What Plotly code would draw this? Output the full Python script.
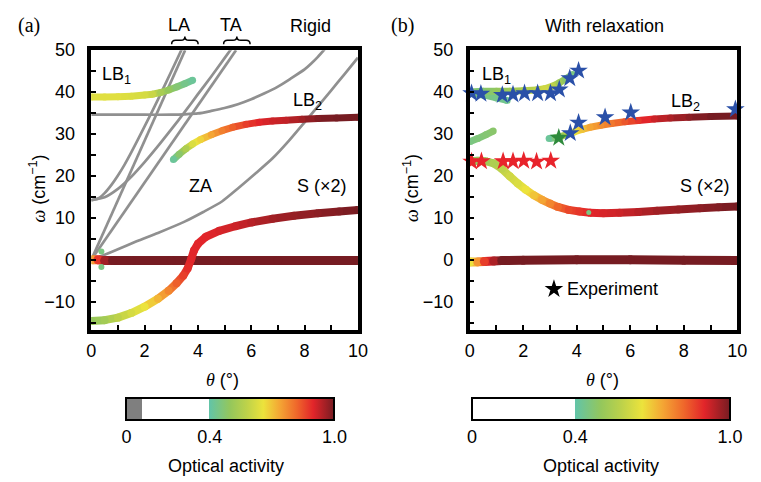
import plotly.graph_objects as go

W, H = 761, 482
FONT = "Liberation Sans, Arial, Helvetica, sans-serif"
SERIF = "Liberation Serif, Times New Roman, serif"
GRAY = "#909090"


def px(x):
    return x / W


def py(y):
    return 1 - y / H


# ---------------- optical-activity colour map ----------------
OA_POS = [0.4, 0.5, 0.58, 0.66, 0.74, 0.82, 0.9, 1.0]
OA_HEX = ["#62c4a8", "#94c75c", "#bdd24a", "#ece33c", "#f4a534", "#ef682b", "#e2252a", "#761c22"]
SCALE_A = [[0, "#7f7f7f"], [0.075, "#7f7f7f"], [0.075, "#ffffff"], [0.4, "#ffffff"]] + \
          [[p, c] for p, c in zip(OA_POS, OA_HEX)]
SCALE_B = [[0, "#ffffff"], [0.4, "#ffffff"]] + [[p, c] for p, c in zip(OA_POS, OA_HEX)]


def oa_color(a):
    """Colour of an optical activity value on the gradient part of the scale."""
    a = min(max(a, OA_POS[0]), OA_POS[-1])
    for i in range(len(OA_POS) - 1):
        if OA_POS[i] <= a <= OA_POS[i + 1]:
            f = (a - OA_POS[i]) / (OA_POS[i + 1] - OA_POS[i])
            c0 = [int(OA_HEX[i][k:k + 2], 16) for k in (1, 3, 5)]
            c1 = [int(OA_HEX[i + 1][k:k + 2], 16) for k in (1, 3, 5)]
            r, g, b = [round(u + (v - u) * f) for u, v in zip(c0, c1)]
            return f"rgb({r},{g},{b})"
    return OA_HEX[-1]


# ---------------- panel (a): rigid ----------------
LA_LIN_T = [0, 3.52]
LA_LIN_W = [0, 50]
LA_HYP_T = [0, 0.25, 0.5, 0.75, 1, 1.25, 1.5, 2, 2.5, 3, 3.4]
LA_HYP_W = [14.2, 14.6, 15.9, 17.8, 20.1, 22.7, 25.6, 31.8, 38.2, 44.9, 50.3]
TA_LIN_T = [0, 5.43]
TA_LIN_W = [0, 50]
TA_HYP_T = [0, 0.5, 1, 1.5, 2, 2.5, 3, 3.5, 4, 4.5, 5, 5.25]
TA_HYP_W = [14.2, 14.9, 16.9, 19.8, 23.3, 27.1, 31.1, 35.2, 39.5, 43.7, 48.1, 50.3]
ZA_T = [0.2, 0.5, 1, 1.7, 2.5, 3.5, 4.2, 4.9, 5.5, 6.2, 6.8, 7.4, 8, 8.5, 9, 9.5, 10]
ZA_W = [0.4, 1.2, 2.5, 4.4, 6.4, 9.1, 11.4, 13.9, 17, 20.8, 24.2, 28.3, 32.8, 36.6, 40.4, 44.3, 48.2]
LBG_T = [0, 1, 2, 3, 3.5, 4, 4.5, 5, 5.5, 6, 6.5, 7, 7.5, 8, 8.25, 8.5, 8.75]
LBG_W = [34.6, 34.6, 34.6, 34.6, 34.7, 34.9, 35.5, 36.2, 37.1, 38.3, 39.7, 41.3, 43.3, 45.4, 46.8, 48.4, 50.2]

LB1A_T = [0, 0.5, 1, 1.5, 2, 2.3, 2.6, 2.9, 3.2, 3.5, 3.8]
LB1A_W = [38.8, 38.8, 38.9, 39.0, 39.3, 39.5, 39.9, 40.5, 41.2, 42.0, 42.8]
LB1A_A = [0.64, 0.64, 0.64, 0.63, 0.62, 0.6, 0.54, 0.5, 0.47, 0.44, 0.42]

LB2A_T = [3.08, 3.3, 3.55, 3.8, 4.1, 4.5, 4.9, 5.3, 5.8, 6.3, 6.8, 7.3, 7.9, 8.5, 9.2, 10]
LB2A_W = [23.9, 25.2, 26.5, 27.6, 28.7, 29.8, 30.8, 31.6, 32.3, 32.8, 33.1, 33.3, 33.5, 33.7, 33.8, 34.0]
LB2A_A = [0.42, 0.48, 0.55, 0.63, 0.68, 0.74, 0.79, 0.83, 0.87, 0.9, 0.92, 0.93, 0.96, 0.99, 1.0, 1.0]

SA_T = [0, 0.5, 1, 1.5, 2, 2.5, 2.9, 3.2, 3.45, 3.62, 3.75, 3.85, 4.0, 4.3, 4.8, 5.4, 6, 6.8, 7.6, 8.5, 9.3, 10]
SA_W = [-14.6, -14.4, -13.8, -12.7, -11.2, -9.3, -7.4, -5.6, -3.8, -2.0, 0.2, 2.2, 3.8, 5.5, 6.9, 8.0,
        8.9, 9.8, 10.5, 11.1, 11.5, 11.9]
SA_A = [0.5, 0.53, 0.58, 0.62, 0.66, 0.72, 0.78, 0.83, 0.87, 0.89, 0.9, 0.9, 0.9, 0.9, 0.91, 0.92,
        0.94, 0.96, 0.97, 0.98, 0.99, 1.0]

ZA0_T = [0.05, 0.25, 0.5, 0.8, 1.5, 3, 5, 7, 10]
ZA0_W = [0, 0, -0.2, -0.2, -0.2, -0.2, -0.2, -0.2, -0.2]
ZA0_A = [0.75, 0.88, 0.96, 1, 1, 1, 1, 1, 1]

DOTA_T = [0.38, 0.38]
DOTA_W = [2.0, -1.7]
DOTA_A = [0.45, 0.45]

# ---------------- panel (b): with relaxation ----------------
LB1B_T = [0, 0.5, 1, 1.5, 2, 2.5, 2.8, 3.1, 3.35, 3.6, 3.85]
LB1B_W = [40.0, 40.2, 40.2, 40.2, 40.3, 40.5, 40.8, 41.4, 42.2, 43.2, 44.2]
LB1B_A = [0.46, 0.47, 0.5, 0.52, 0.55, 0.58, 0.61, 0.58, 0.52, 0.48, 0.45]
LB1C_T = [0.2, 0.6, 1.0, 1.4]
LB1C_W = [39.6, 39.2, 38.6, 38.0]
LB1C_A = [0.45, 0.45, 0.44, 0.43]
MIDB_T = [0.02, 0.3, 0.6, 0.88]
MIDB_W = [28.2, 28.9, 29.8, 30.7]
MIDB_A = [0.45, 0.46, 0.47, 0.48]

LB2B_T = [2.97, 3.2, 3.4, 3.65, 3.9, 4.2, 4.5, 4.9, 5.3, 5.8, 6.3, 6.9, 7.5, 8.2, 9, 10]
LB2B_W = [28.9, 29.1, 29.4, 29.9, 30.5, 31.1, 31.6, 32.1, 32.5, 32.9, 33.2, 33.6, 33.8, 34.0, 34.2, 34.3]
LB2B_A = [0.42, 0.46, 0.5, 0.58, 0.65, 0.7, 0.74, 0.77, 0.8, 0.84, 0.88, 0.92, 0.95, 0.98, 1.0, 1.0]

SB_T = [0, 0.3, 0.6, 0.9, 1.2, 1.5, 1.8, 2.1, 2.4, 2.7, 3.0, 3.3, 3.7, 4.1, 4.5, 5, 5.6, 6.3, 7, 7.8,
        8.6, 9.3, 10]
SB_W = [23.5, 23.6, 23.5, 23.0, 21.7, 19.9, 18.2, 16.7, 15.4, 14.3, 13.4, 12.6, 11.9, 11.5, 11.2, 11.1,
        11.2, 11.4, 11.7, 12.0, 12.3, 12.5, 12.7]
SB_A = [0.5, 0.5, 0.52, 0.55, 0.58, 0.61, 0.63, 0.66, 0.7, 0.74, 0.78, 0.82, 0.86, 0.88, 0.9, 0.91,
        0.92, 0.94, 0.96, 0.97, 0.98, 0.99, 1.0]

ZB0_T = [0.02, 0.3, 0.55, 0.9, 1.2, 2, 4, 6, 8, 10]
ZB0_W = [-0.5, -0.5, -0.4, -0.3, -0.2, -0.1, 0, 0, -0.1, -0.2]
ZB0_A = [0.66, 0.76, 0.87, 0.95, 1, 1, 1, 1, 1, 1]

DOTB_T = [4.45]
DOTB_W = [11.3]
DOTB_A = [0.45]

# experimental points
EXP_BLUE_T = [0.07, 0.42, 1.22, 1.62, 2.05, 2.54, 3.02, 3.35, 3.74, 4.07, 3.76, 4.07, 5.06, 6.02, 9.93]
EXP_BLUE_W = [39.7, 39.6, 39.3, 39.4, 39.7, 39.7, 39.7, 40.6, 43.3, 45.1, 30.2, 32.7, 34.0, 35.1, 35.9]
EXP_RED_T = [0.07, 0.44, 1.25, 1.62, 2.02, 2.5, 3.03]
EXP_RED_W = [23.4, 23.5, 23.5, 23.5, 23.6, 23.4, 23.6]
EXP_GREEN_T = [3.33]
EXP_GREEN_W = [29.1]
LEGEND_STAR_T = [3.15]
LEGEND_STAR_W = [-7.0]

fig = go.Figure()


def gray(t, w, xa, ya):
    fig.add_trace(go.Scatter(x=t, y=w, mode="lines", xaxis=xa, yaxis=ya, hoverinfo="skip",
                             line=dict(color=GRAY, width=2.7, shape="spline", smoothing=0.6)))


def coloured(t, w, a, width, xa, ya, cax):
    for i in range(len(t) - 1):
        c = oa_color((a[i] + a[i + 1]) / 2)
        fig.add_trace(go.Scatter(x=t[i:i + 2], y=w[i:i + 2], mode="lines", xaxis=xa, yaxis=ya,
                                 hoverinfo="skip", line=dict(color=c, width=width)))
    fig.add_trace(go.Scatter(x=t, y=w, mode="markers", xaxis=xa, yaxis=ya, hoverinfo="skip",
                             marker=dict(size=width, color=a, coloraxis=cax, line=dict(width=0))))


# panel (a)
for t, w in [(LBG_T, LBG_W), (LA_LIN_T, LA_LIN_W), (LA_HYP_T, LA_HYP_W), (TA_LIN_T, TA_LIN_W),
             (TA_HYP_T, TA_HYP_W), (ZA_T, ZA_W)]:
    gray(t, w, "x", "y")
coloured(ZA0_T, ZA0_W, ZA0_A, 9, "x", "y", "coloraxis")
coloured(SA_T, SA_W, SA_A, 8, "x", "y", "coloraxis")
coloured(LB1A_T, LB1A_W, LB1A_A, 7, "x", "y", "coloraxis")
coloured(LB2A_T, LB2A_W, LB2A_A, 7, "x", "y", "coloraxis")
fig.add_trace(go.Scatter(x=DOTA_T, y=DOTA_W, mode="markers", xaxis="x", yaxis="y", hoverinfo="skip",
                         marker=dict(size=6, color=DOTA_A, coloraxis="coloraxis")))

# panel (b)
coloured(ZB0_T, ZB0_W, ZB0_A, 9, "x2", "y2", "coloraxis2")
coloured(SB_T, SB_W, SB_A, 8, "x2", "y2", "coloraxis2")
coloured(MIDB_T, MIDB_W, MIDB_A, 7, "x2", "y2", "coloraxis2")
coloured(LB1C_T, LB1C_W, LB1C_A, 7, "x2", "y2", "coloraxis2")
coloured(LB1B_T, LB1B_W, LB1B_A, 7, "x2", "y2", "coloraxis2")
coloured(LB2B_T, LB2B_W, LB2B_A, 7, "x2", "y2", "coloraxis2")
fig.add_trace(go.Scatter(x=DOTB_T, y=DOTB_W, mode="markers", xaxis="x2", yaxis="y2", hoverinfo="skip",
                         marker=dict(size=5, color=DOTB_A, coloraxis="coloraxis2")))

for t, w, col in [(EXP_RED_T, EXP_RED_W, "#e8232b"), (EXP_BLUE_T, EXP_BLUE_W, "#2a50a8"),
                  (EXP_GREEN_T, EXP_GREEN_W, "#2f8a3c"), (LEGEND_STAR_T, LEGEND_STAR_W, "#000000")]:
    fig.add_trace(go.Scatter(x=t, y=w, mode="markers", xaxis="x2", yaxis="y2", hoverinfo="skip",
                             cliponaxis=False,
                             marker=dict(symbol="star", size=14, color=col, line=dict(width=0))))

# ---------------- axes ----------------
tickfont = dict(family=FONT, size=18, color="black")
common = dict(showline=True, linecolor="black", linewidth=3.5, mirror=True, ticks="inside", ticklen=5,
              tickwidth=2, tickcolor="black", showgrid=False, zeroline=False, tickfont=tickfont)
xcommon = dict(common, range=[0, 10], tickvals=[0, 2, 4, 6, 8, 10], ticklabelstandoff=1,
               minor=dict(ticks="inside", tick0=0, dtick=1, ticklen=5, tickwidth=2, tickcolor="black"))
ycommon = dict(common, range=[-16.8, 50], tickvals=[-10, 0, 10, 20, 30, 40, 50], ticklabelstandoff=9,
               minor=dict(ticks="inside", tick0=0, dtick=5, ticklen=5, tickwidth=2, tickcolor="black"))
ydom = [py(327), py(41)]

cbar = dict(orientation="h", lenmode="pixels", thicknessmode="pixels", thickness=22,
            outlinewidth=2, outlinecolor="black", tickvals=[0, 0.4, 1], ticktext=["0", "0.4", "1.0"],
            ticks="", tickfont=tickfont, yanchor="middle", xanchor="center", xpad=0, ypad=0)

fig.update_layout(
    width=W, height=H, margin=dict(l=0, r=0, t=0, b=0),
    paper_bgcolor="white", plot_bgcolor="white", showlegend=False,
    xaxis=dict(xcommon, domain=[px(88), px(360)], anchor="y"),
    yaxis=dict(ycommon, domain=ydom, anchor="x"),
    xaxis2=dict(xcommon, domain=[px(474), px(747)], anchor="y2"),
    yaxis2=dict(ycommon, domain=ydom, anchor="x2"),
    coloraxis=dict(colorscale=SCALE_A, cmin=0, cmax=1,
                   colorbar=dict(cbar, x=px(230), y=py(419), len=208)),
    coloraxis2=dict(colorscale=SCALE_B, cmin=0, cmax=1,
                    colorbar=dict(cbar, x=px(608), y=py(419), len=258)),
)

# ---------------- text ----------------
ann = []


def ptext(x, y, text, size=18, family=FONT, angle=0):
    ann.append(dict(x=px(x), y=py(y), xref="paper", yref="paper", text=text, showarrow=False,
                    textangle=angle, xanchor="center", yanchor="middle",
                    font=dict(family=family, size=size, color="black")))


def dtext(x, y, text, xa, ya, xanchor="center"):
    ann.append(dict(x=x, y=y, xref=xa, yref=ya, text=text, showarrow=False, xanchor=xanchor,
                    yanchor="middle", font=dict(family=FONT, size=18, color="black")))


ptext(24, 16, "(a)", 20, SERIF)
ptext(405, 16, "(b)", 20, SERIF)
ptext(178, 15, "LA")
ptext(231, 15, "TA")
ptext(312, 16, "Rigid")
ptext(612, 16, "With relaxation")
ylab = '<span style="font-family:Liberation Serif"><i>ω</i></span> (cm<sup>−1</sup>)'
ptext(33, 182, ylab, 18, FONT, -90)
ptext(414, 182, ylab, 18, FONT, -90)
xlab = '<span style="font-family:Liberation Serif"><i>θ</i></span> (°)'
ptext(222, 378, xlab)
ptext(610, 378, xlab)
ptext(225, 466, "Optical activity")
ptext(608, 466, "Optical activity")

dtext(0.95, 44.0, "LB<sub>1</sub>", "x", "y")
dtext(8.1, 37.8, "LB<sub>2</sub>", "x", "y")
dtext(4.1, 17.6, "ZA", "x", "y")
dtext(8.65, 17.6, "S (×2)", "x", "y")
dtext(1.0, 44.0, "LB<sub>1</sub>", "x2", "y2")
dtext(8.05, 37.6, "LB<sub>2</sub>", "x2", "y2")
dtext(8.8, 17.6, "S (×2)", "x2", "y2")
dtext(3.55, -7.0, "Experiment", "x2", "y2", "left")
fig.update_layout(annotations=ann)


# curly braces grouping the LA and TA branches
def brace(x0, x1, ytop=27, ymid=31, yend=35):
    cx = (x0 + x1) / 2
    pts = [("M", x0, yend), ("Q", x0, ymid), ("", x0 + 4, ymid), ("L", cx - 4, ymid),
           ("Q", cx, ymid), ("", cx, ytop), ("Q", cx, ymid), ("", cx + 4, ymid),
           ("L", x1 - 4, ymid), ("Q", x1, ymid), ("", x1, yend)]
    path = " ".join(f"{c} {px(x):.5f},{py(y):.5f}".strip() for c, x, y in pts)
    return dict(type="path", xref="paper", yref="paper", path=path,
                line=dict(color="black", width=1.5))


fig.update_layout(shapes=[brace(170, 197), brace(223, 250)])

fig.write_html("out.html")
